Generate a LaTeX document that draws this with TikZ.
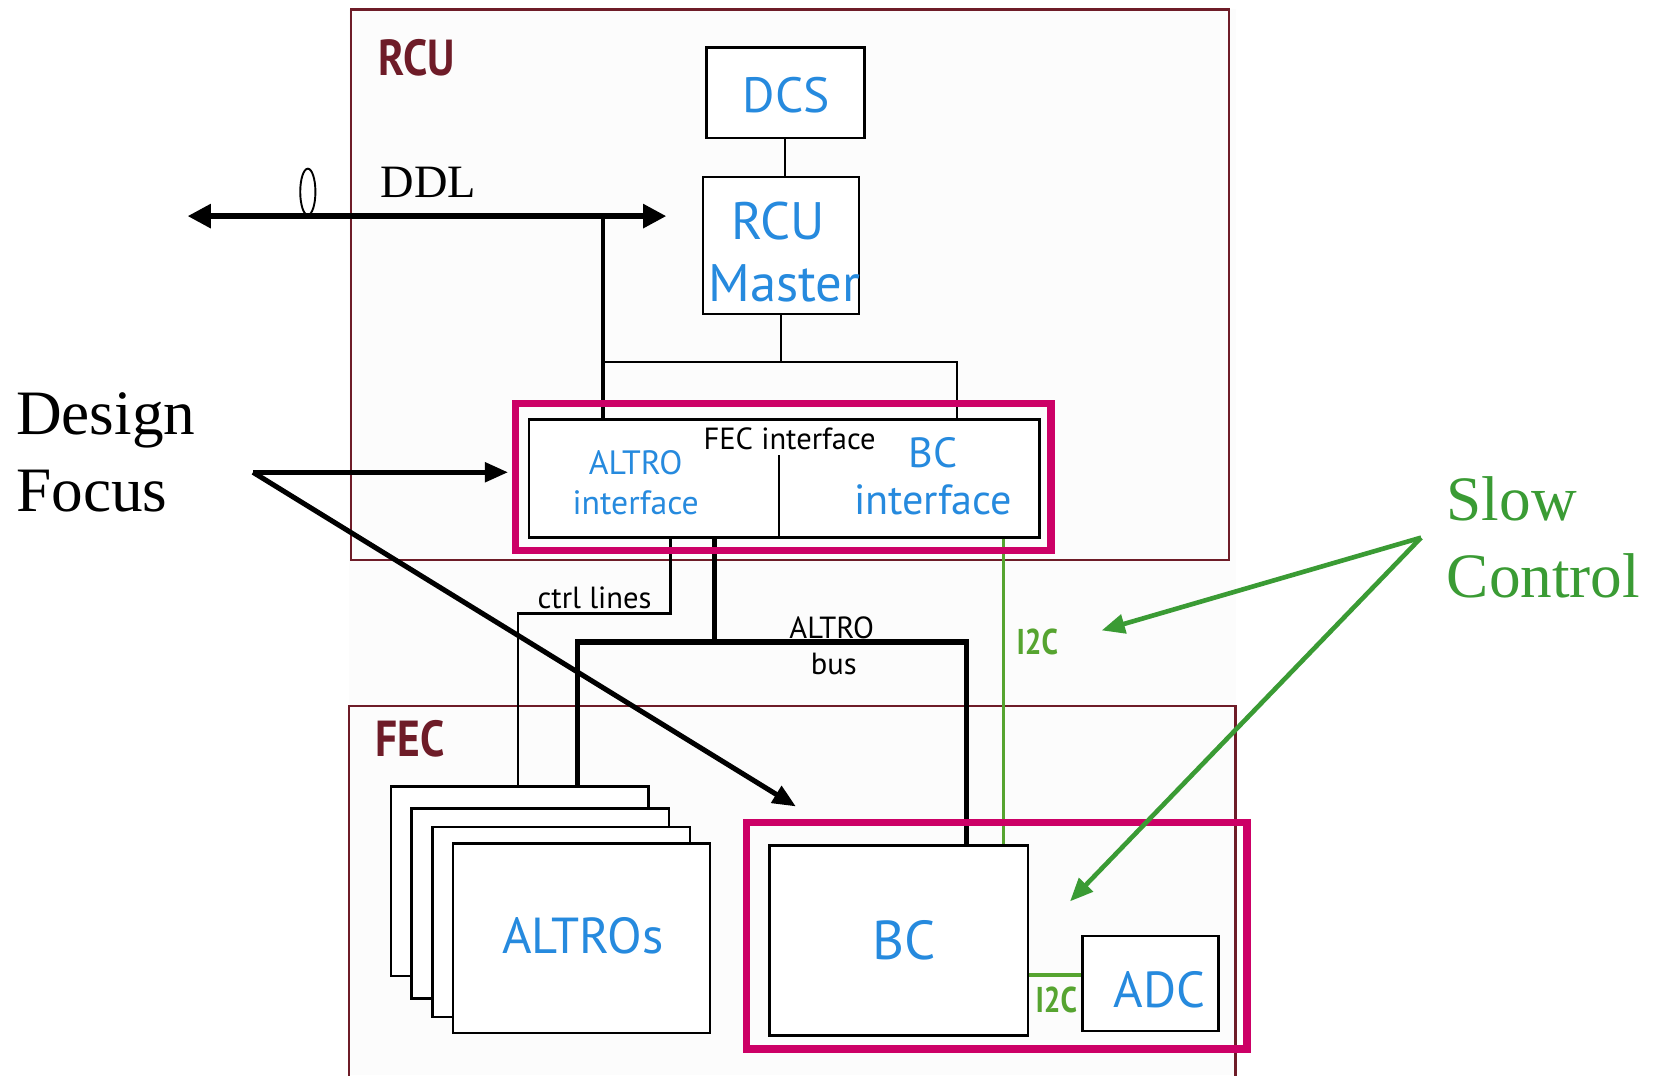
\documentclass[tikz,border=0pt]{standalone}
\usepackage{fontspec}
\setmainfont{Liberation Serif}
\setsansfont{PT Sans}
\usetikzlibrary{arrows.meta,calc}
\definecolor{rcured}{RGB}{110,28,40}
\definecolor{hlmag}{RGB}{204,0,102}
\definecolor{lblue}{RGB}{38,138,222}
\definecolor{scgreen}{RGB}{58,155,52}
\definecolor{i2cgreen}{RGB}{86,164,48}
\definecolor{panel}{RGB}{252,252,252}
\begin{document}
\begin{tikzpicture}[x=0.5pt,y=-0.5pt,
  block/.style={draw=black, line width=1.2pt, fill=white, inner sep=0pt},
  highlight/.style={draw=hlmag, line width=3.5pt, inner sep=0pt},
  region/.style={draw=rcured, line width=1pt},
  wire/.style={draw=black, line width=1pt},
  buswire/.style={draw=black, line width=2.4pt},
  i2cwire/.style={draw=i2cgreen, line width=1.5pt},
  blulbl/.style={text=lblue, font=\sffamily\fontsize{#1}{#1}\selectfont, inner sep=0pt, anchor=base},
  blklbl/.style={text=black, font=\sffamily\fontsize{#1}{#1}\selectfont, inner sep=0pt, anchor=base},
  i2clbl/.style={text=i2cgreen, font=\sffamily\bfseries\fontsize{17}{17}\selectfont, inner sep=0pt, anchor=base},
  reglbl/.style={text=rcured, font=\sffamily\bfseries\fontsize{24}{24}\selectfont, inner sep=0pt, anchor=base},
  serif/.style={font=\rmfamily\fontsize{#1}{#1}\selectfont, inner sep=0pt, anchor=base west},
  dfarrow/.style={draw=black, line width=2.4pt, -{Triangle[length=11pt,width=9pt]}},
  scarrow/.style={draw=scgreen, line width=2.2pt, -{Triangle[length=11pt,width=9pt]}}
]
\fill[white] (0,0) rectangle (1568,1020);
\useasboundingbox (0,0) rectangle (1568,1020);
\fill[panel] (331,9) rectangle (1172,1020);

% RCU and FEC regions
\node[region, minimum width=416.5pt, minimum height=261pt, inner sep=0pt] (rcu) at (749.5,270) {};
\draw[region] (331,1030) -- (331,670) -- (1172,670) -- (1172,1030);
\node[reglbl] (rculbl) at (395,72) {\scalebox{0.86}[1]{RCU}};
\node[reglbl] (feclbl) at (389,718) {\scalebox{0.86}[1]{FEC}};

% RCU blocks
\node[block, minimum width=75pt, minimum height=43pt] (dcs) at (745,88) {};
\node[block, minimum width=74pt, minimum height=65pt] (rcum) at (741,233) {};
\node[block, minimum width=242pt, minimum height=56pt] (fecif) at (744,454) {};

% DDL link
\coordinate (ddlL) at (178,205);
\coordinate (ddlR) at (632,205);
\coordinate (ddltap) at (572,205);
\draw[line width=2.5pt, {Triangle[length=11pt,width=11pt]}-{Triangle[length=11pt,width=11pt]}] (ddlL) -- (ddlR);
\draw[line width=0.9pt] (292,182) ellipse [x radius=3.6pt, y radius=11pt];
\node[serif=22] (ddl) at (361,187) {DDL};

% internal RCU connections
\coordinate (jl) at (572,343);
\coordinate (jr) at (908,343);
\coordinate (divtop) at (739,432);
\draw[wire] (dcs.south) -- (dcs.south |- rcum.north);
\draw[wire] (rcum.south) -- (rcum.south |- jl);
\draw[wire] (jl) -- (jr) -- (jr |- fecif.north);
\draw[line width=1.5pt] (ddltap) -- (ddltap |- fecif.north);
\draw[wire] (divtop) -- (divtop |- fecif.south);

% FEC interface texts
\node[blklbl=14.5] (fectxt) at (749,426) {FEC interface};
\node[blulbl=16] (altif1) at (603,450) {ALTRO};
\node[blulbl=16] (altif2) at (603,488) {interface};
\node[blulbl=20] (bcif1) at (885,443) {BC};
\node[blulbl=20] (bcif2) at (885,488) {interface};
\node[blulbl=23.5] (dcstxt) at (746,107) {DCS};
\node[blulbl=25] (rcumtxt1) at (738,227) {RCU};
\node[blulbl=25] (rcumtxt2) at (744,286) {Master};

% FEC blocks
\node[block, minimum width=122pt, minimum height=90pt] (alt1) at (493,836) {};
\node[block, minimum width=122pt, minimum height=90pt] (alt2) at (512.5,857) {};
\node[block, minimum width=122pt, minimum height=90pt] (alt3) at (532.5,874.5) {};
\node[block, minimum width=122pt, minimum height=90pt] (alt4) at (551.5,890) {};
\node[blulbl=24] (altros) at (553,904) {ALTROs};
\node[block, minimum width=122.5pt, minimum height=90pt] (bc) at (852.5,892) {};
\node[blulbl=26] (bctxt) at (858,910) {BC};
\node[block, minimum width=64.5pt, minimum height=45pt] (adc) at (1091.5,933) {};
\node[blulbl=24] (adctxt) at (1100,956) {ADC};

% control lines
\coordinate (ctrlA) at ([xshift=-54pt]fecif.south);
\coordinate (ctrlB) at ([xshift=-1pt]alt1.north);
\coordinate (ctrlY) at (0,582);
\draw[wire] (ctrlA) |- (ctrlB |- ctrlY) -- (ctrlB);
\node[blklbl=14.5] (ctrltxt) at (564,577) {ctrl lines};

% ALTRO bus
\coordinate (busA) at ([xshift=-33pt]fecif.south);
\coordinate (busL) at ([xshift=27.5pt]alt1.north);
\coordinate (busR) at ([xshift=32.25pt]bc.north);
\coordinate (busY) at (0,609);
\draw[buswire] (busA) -- (busA |- busY);
\draw[buswire, line join=miter] (busL) -- (busL |- busY) -- (busR |- busY) -- (busR);
\node[blklbl=14.5] (bustxt1) at (789,606) {ALTRO};
\node[blklbl=14.5] (bustxt2) at (791,640) {bus};

% I2C links
\draw[i2cwire] ([xshift=104pt]fecif.south) -- ([xshift=49.75pt]bc.north);
\node[i2clbl] (i2ca) at (984,621) {\scalebox{0.82}[1]{I2C}};
\draw[i2cwire, line width=2pt] ([yshift=-16.5pt]bc.east) -- ([yshift=-16.5pt]bc.east -| adc.west);
\node[i2clbl] (i2cb) at (1002,960) {\scalebox{0.82}[1]{I2C}};

% highlighted design areas
\node[highlight, minimum width=254pt, minimum height=69.5pt] (hl1) at (743,452.5) {};
\node[highlight, minimum width=237.5pt, minimum height=107.5pt] (hl2) at (945.5,887.5) {};

% annotations
\node[serif=30] (design) at (15,412) {Design};
\node[serif=30] (focus) at (15,485) {Focus};
\node[serif=30, text=scgreen] (slow) at (1372,494) {Slow};
\node[serif=30, text=scgreen] (control) at (1372,567) {Control};

\coordinate (dfsrc) at (240,448);
\coordinate (dft1) at (482,448);
\coordinate (dft2) at (755,765);
\draw[dfarrow] (dfsrc) -- (dft1);
\draw[dfarrow] (dfsrc) -- (dft2);

\coordinate (scsrc) at (1348,510);
\coordinate (sct1) at (1045,598);
\coordinate (sct2) at (1015,855);
\draw[scarrow] (scsrc) -- (sct1);
\draw[scarrow] (scsrc) -- (sct2);
\end{tikzpicture}
\end{document}
